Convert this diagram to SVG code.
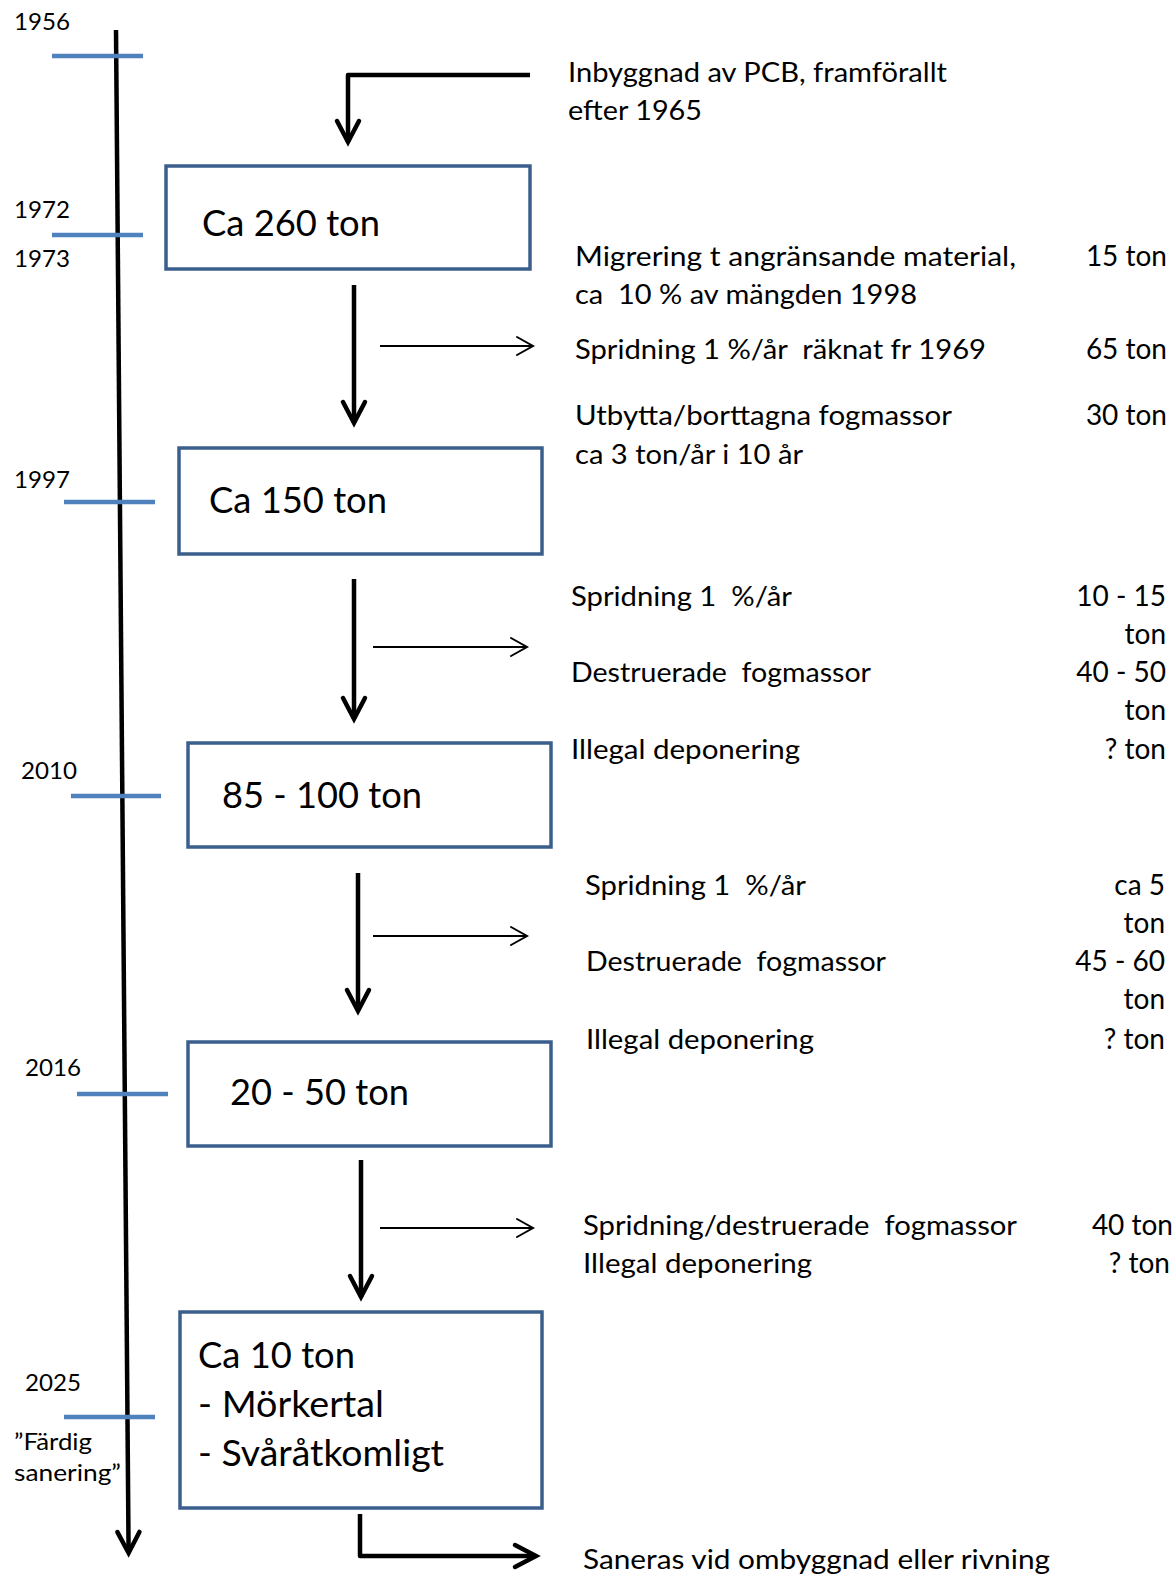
<svg xmlns="http://www.w3.org/2000/svg" width="1176" height="1574" viewBox="0 0 1176 1574">
<style>
text{font-family:Lato,"Open Sans","Liberation Sans",sans-serif;fill:#000}
.yr{font-size:24px}
.bt{font-size:26px}
.bx{font-size:37px}
.num{font-size:28px;text-anchor:end}
.pre{white-space:pre}
.box{fill:#fff;stroke:#3B5F8C;stroke-width:3.5}
.tick{stroke:#4F81BD;stroke-width:4.5}
.thick{fill:none;stroke:#000;stroke-width:4.5;stroke-linejoin:round}
.thin{fill:none;stroke:#000;stroke-width:2}
</style>
<defs>
<marker id="hd" markerUnits="userSpaceOnUse" markerWidth="40" markerHeight="40" refX="0" refY="0" orient="auto" overflow="visible">
<path d="M-21,-11 L0,0 L-21,11" fill="none" stroke="#000" stroke-width="4.5" stroke-linejoin="miter" stroke-linecap="round"/>
</marker>
<marker id="hn" markerUnits="userSpaceOnUse" markerWidth="30" markerHeight="30" refX="0" refY="0" orient="auto" overflow="visible">
<path d="M-16,-9 L0,0 L-16,9" fill="none" stroke="#000" stroke-width="2" stroke-linecap="round"/>
</marker>
</defs>
<rect width="1176" height="1574" fill="#fff"/>

<g id="timeline">
<path class="thick" d="M116,30 L128.6,1553" marker-end="url(#hd)"/>
<line class="tick" x1="52" y1="56" x2="143" y2="56"/>
<line class="tick" x1="52" y1="235" x2="143" y2="235"/>
<line class="tick" x1="64" y1="502" x2="155" y2="502"/>
<line class="tick" x1="71" y1="796" x2="161" y2="796"/>
<line class="tick" x1="77" y1="1094" x2="168" y2="1094"/>
<line class="tick" x1="64" y1="1417" x2="155" y2="1417"/>
<text class="yr" x="14" y="30" textLength="56" lengthAdjust="spacingAndGlyphs">1956</text>
<text class="yr" x="14" y="218" textLength="56" lengthAdjust="spacingAndGlyphs">1972</text>
<text class="yr" x="14" y="267" textLength="56" lengthAdjust="spacingAndGlyphs">1973</text>
<text class="yr" x="14" y="488" textLength="56" lengthAdjust="spacingAndGlyphs">1997</text>
<text class="yr" x="21" y="779" textLength="56" lengthAdjust="spacingAndGlyphs">2010</text>
<text class="yr" x="25" y="1076" textLength="56" lengthAdjust="spacingAndGlyphs">2016</text>
<text class="yr" x="25" y="1391" textLength="56" lengthAdjust="spacingAndGlyphs">2025</text>
<text class="yr" x="14" y="1450" textLength="78" lengthAdjust="spacingAndGlyphs">”Färdig</text>
<text class="yr" x="14" y="1481" textLength="107" lengthAdjust="spacingAndGlyphs">sanering”</text>
</g>

<g id="connectors">
<path class="thick" d="M530,75 L348,75 L348,142" marker-end="url(#hd)"/>
<path class="thick" d="M354,285 L354,423" marker-end="url(#hd)"/>
<path class="thick" d="M354,579 L354,719" marker-end="url(#hd)"/>
<path class="thick" d="M358,873 L358,1011" marker-end="url(#hd)"/>
<path class="thick" d="M361,1160 L361,1297" marker-end="url(#hd)"/>
<path class="thick" d="M360,1514 L360,1556 L536,1556" marker-end="url(#hd)"/>
<path class="thin" d="M380,346 L533,346" marker-end="url(#hn)"/>
<path class="thin" d="M373,647 L527,647" marker-end="url(#hn)"/>
<path class="thin" d="M373,936 L527,936" marker-end="url(#hn)"/>
<path class="thin" d="M380,1228 L533,1228" marker-end="url(#hn)"/>
</g>

<g id="node-1">
<rect class="box" x="166" y="166" width="364" height="103"/>
<text class="bx" x="202" y="236" textLength="178" lengthAdjust="spacingAndGlyphs">Ca 260 ton</text>
</g>
<g id="node-2">
<rect class="box" x="179" y="448" width="363" height="106"/>
<text class="bx" x="209" y="513" textLength="178" lengthAdjust="spacingAndGlyphs">Ca 150 ton</text>
</g>
<g id="node-3">
<rect class="box" x="188" y="743" width="363" height="104"/>
<text class="bx" x="222" y="808" textLength="200" lengthAdjust="spacingAndGlyphs">85 - 100 ton</text>
</g>
<g id="node-4">
<rect class="box" x="188" y="1042" width="363" height="104"/>
<text class="bx" x="230" y="1105" textLength="179" lengthAdjust="spacingAndGlyphs">20 - 50 ton</text>
</g>
<g id="node-5">
<rect class="box" x="180" y="1312" width="362" height="196"/>
<text class="bx" x="198" y="1368" textLength="157" lengthAdjust="spacingAndGlyphs">Ca 10 ton</text>
<text class="bx" x="198" y="1417" textLength="186" lengthAdjust="spacingAndGlyphs">- Mörkertal</text>
<text class="bx" x="198" y="1466" textLength="246" lengthAdjust="spacingAndGlyphs">- Svåråtkomligt</text>
</g>

<g id="label-input">
<text class="bt" x="568" y="82" textLength="379" lengthAdjust="spacingAndGlyphs">Inbyggnad av PCB, framförallt</text>
<text class="bt" x="568" y="120" textLength="134" lengthAdjust="spacingAndGlyphs">efter 1965</text>
</g>

<g id="label-losses-1">
<text class="bt" x="575" y="266" textLength="441" lengthAdjust="spacingAndGlyphs">Migrering t angränsande material,</text>
<text class="num" x="1167" y="266">15 ton</text>
<text class="bt pre" x="575" y="304" textLength="342" lengthAdjust="spacingAndGlyphs">ca  10 % av mängden 1998</text>
<text class="bt pre" x="575" y="359" textLength="411" lengthAdjust="spacingAndGlyphs">Spridning 1 %/år  räknat fr 1969</text>
<text class="num" x="1167" y="359">65 ton</text>
<text class="bt" x="575" y="425" textLength="377" lengthAdjust="spacingAndGlyphs">Utbytta/borttagna fogmassor</text>
<text class="num" x="1167" y="425">30 ton</text>
<text class="bt" x="575" y="464" textLength="228" lengthAdjust="spacingAndGlyphs">ca 3 ton/år i 10 år</text>
</g>

<g id="label-losses-2">
<text class="bt pre" x="571" y="606" textLength="221" lengthAdjust="spacingAndGlyphs">Spridning 1  %/år</text>
<text class="num" x="1166" y="606">10 - 15</text>
<text class="num" x="1166" y="644">ton</text>
<text class="bt pre" x="571" y="682" textLength="300" lengthAdjust="spacingAndGlyphs">Destruerade  fogmassor</text>
<text class="num" x="1166" y="682">40 - 50</text>
<text class="num" x="1166" y="720">ton</text>
<text class="bt" x="571" y="759" textLength="229" lengthAdjust="spacingAndGlyphs">Illegal deponering</text>
<text class="num" x="1166" y="759">? ton</text>
</g>

<g id="label-losses-3">
<text class="bt pre" x="585" y="895" textLength="221" lengthAdjust="spacingAndGlyphs">Spridning 1  %/år</text>
<text class="num" x="1165" y="895">ca 5</text>
<text class="num" x="1165" y="933">ton</text>
<text class="bt pre" x="586" y="971" textLength="300" lengthAdjust="spacingAndGlyphs">Destruerade  fogmassor</text>
<text class="num" x="1165" y="971">45 - 60</text>
<text class="num" x="1165" y="1009">ton</text>
<text class="bt" x="586" y="1049" textLength="228" lengthAdjust="spacingAndGlyphs">Illegal deponering</text>
<text class="num" x="1165" y="1049">? ton</text>
</g>

<g id="label-losses-4">
<text class="bt pre" x="583" y="1235" textLength="434" lengthAdjust="spacingAndGlyphs">Spridning/destruerade  fogmassor</text>
<text class="num" x="1173" y="1235">40 ton</text>
<text class="bt" x="583" y="1273" textLength="229" lengthAdjust="spacingAndGlyphs">Illegal deponering</text>
<text class="num" x="1170" y="1273">? ton</text>
</g>

<g id="label-output">
<text class="bt" x="583" y="1569" textLength="467" lengthAdjust="spacingAndGlyphs">Saneras vid ombyggnad eller rivning</text>
</g>
</svg>
